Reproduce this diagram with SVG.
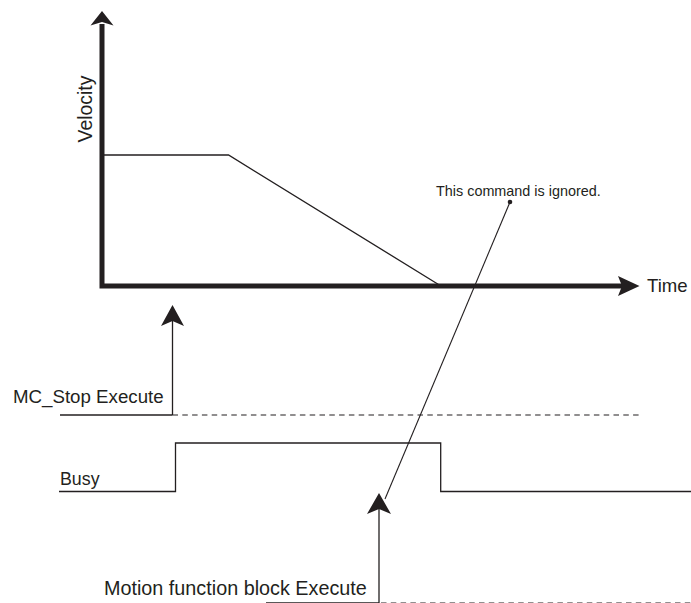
<svg xmlns="http://www.w3.org/2000/svg" width="691" height="603" viewBox="0 0 691 603">
  <style>
    .lbl { font-family: "Liberation Sans", Arial, sans-serif; fill: #231f20; }
    .axis { stroke: #231f20; stroke-width: 5; fill: none; }
    .thin { stroke: #231f20; stroke-width: 1.3; fill: none; }
    .dash { stroke: #231f20; stroke-width: 1.2; fill: none; stroke-dasharray: 5.5 4.3; }
    .head { fill: #231f20; stroke: none; }
  </style>
  <rect width="691" height="603" fill="#ffffff"/>

  <!-- velocity / time axes -->
  <g id="axes">
    <polyline class="axis" points="102,24 102,286 624,286"/>
    <polygon class="head" points="102,11 113.5,25.5 102,22 90.5,25.5"/>
    <polygon class="head" points="639.5,286 618,276 622,286 618,296"/>
    <text class="lbl" font-size="19.4" text-anchor="middle" transform="translate(91.5,109) rotate(-90)">Velocity</text>
    <text class="lbl" font-size="18.6" x="647" y="292">Time</text>
  </g>

  <!-- velocity profile: constant then decelerating to zero -->
  <g id="velocity-profile">
    <polyline class="thin" points="104,155 228.5,155 438.5,284.5"/>
  </g>

  <!-- MC_Stop Execute signal -->
  <g id="mc-stop-execute">
    <text class="lbl" font-size="18.7" x="13" y="403">MC_Stop Execute</text>
    <line class="thin" x1="60" y1="415" x2="172.5" y2="415"/>
    <line class="dash" x1="172.5" y1="415" x2="639" y2="415"/>
  </g>

  <!-- Busy signal -->
  <g id="busy">
    <text class="lbl" font-size="17.8" x="60" y="485">Busy</text>
    <polyline class="thin" points="59,491.5 175.5,491.5 175.5,443 440.7,443 440.7,491.5 691,491.5"/>
  </g>

  <!-- Motion function block Execute signal -->
  <g id="motion-execute">
    <text class="lbl" font-size="19.8" x="104" y="595">Motion function block Execute</text>
    <line class="thin" x1="266" y1="603" x2="379" y2="603"/>
    <line class="dash" x1="381" y1="603" x2="691" y2="603"/>
  </g>

  <!-- callout label -->
  <g id="ignored-note">
    <text class="lbl" font-size="14.4" x="436" y="196">This command is ignored.</text>
  </g>

  <g id="connectors">
    <!-- MC_Stop rising edge arrow -->
    <line class="thin" x1="172.5" y1="415" x2="172.5" y2="321"/>
    <polygon class="head" points="172.5,305 184,326 172.5,321 161,326"/>
    <!-- Motion FB rising edge arrow -->
    <line class="thin" x1="379" y1="603" x2="379" y2="509"/>
    <polygon class="head" points="379,493 391,514 379,509 367,514"/>
    <!-- callout leader -->
    <line stroke="#231f20" stroke-width="1.1" x1="510" y1="202" x2="385" y2="499"/>
    <circle class="head" cx="510" cy="202" r="2.3"/>
  </g>
</svg>
